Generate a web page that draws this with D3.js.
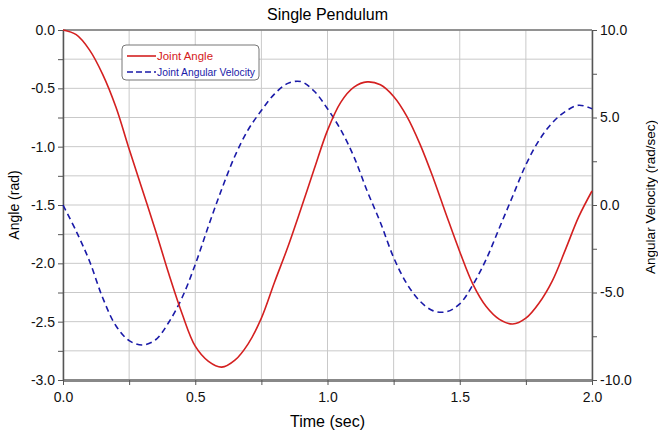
<!DOCTYPE html>
<html>
<head>
  <meta charset="utf-8">
  <script src="https://d3js.org/d3.v7.min.js"></script>
  <style>
    body { margin: 0; background: #fff; }
    text { font-family: "Liberation Sans", Arial, sans-serif; }
  </style>
</head>
<body>
  <div id="chart"></div>
  <script>
    // sample times (sec)
    var times = [0.00, 0.05, 0.10, 0.15, 0.20, 0.25, 0.30, 0.35, 0.40, 0.45,
                 0.50, 0.55, 0.60, 0.65, 0.70, 0.75, 0.80, 0.85, 0.90, 0.95,
                 1.00, 1.05, 1.10, 1.15, 1.20, 1.25, 1.30, 1.35, 1.40, 1.45,
                 1.50, 1.55, 1.60, 1.65, 1.70, 1.75, 1.80, 1.85, 1.90, 1.95, 2.00];
    // joint angle (rad)
    var jointAngle = [0.00, -0.04, -0.17, -0.38, -0.66, -1.02, -1.37, -1.72, -2.09, -2.43,
                      -2.71, -2.84, -2.89, -2.83, -2.69, -2.47, -2.16, -1.86, -1.53, -1.19,
                      -0.86, -0.62, -0.49, -0.445, -0.47, -0.57, -0.74, -0.98, -1.27, -1.59,
                      -1.90, -2.18, -2.37, -2.48, -2.52, -2.47, -2.34, -2.15, -1.88, -1.60, -1.38];
    // joint angular velocity (rad/sec)
    var jointVelocity = [0.0, -1.5, -3.2, -5.3, -6.9, -7.75, -8.0, -7.7, -6.7, -5.3,
                         -3.4, -1.2, 0.9, 2.8, 4.3, 5.4, 6.35, 6.95, 7.05, 6.5,
                         5.5, 4.3, 2.75, 0.8, -1.0, -3.0, -4.5, -5.5, -6.05, -6.1,
                         -5.65, -4.55, -3.1, -1.3, 0.5, 2.3, 3.7, 4.7, 5.35, 5.7, 5.5];
    var xTicks = [0, 0.5, 1.0, 1.5, 2.0];
    var leftTicks = [0, -0.5, -1.0, -1.5, -2.0, -2.5, -3.0];
    var rightTicks = [10, 5, 0, -5, -10];

    var W = 658, H = 434;
    var margin = { top: 30, right: 66, bottom: 54, left: 63 };
    var width = W - margin.left - margin.right;
    var height = H - margin.top - margin.bottom;

    var svg = d3.select('#chart').append('svg')
      .attr('width', W)
      .attr('height', H);

    var g = svg.append('g')
      .attr('transform', 'translate(' + margin.left + ',' + margin.top + ')');

    var x = d3.scaleLinear().domain([0, 2]).range([0, width]);
    var yL = d3.scaleLinear().domain([-3, 0]).range([height, 0]);
    var yR = d3.scaleLinear().domain([-10, 10]).range([height, 0]);

    // grid
    var gridX = d3.range(0, 2.001, 0.25);
    var gridY = d3.range(-3, 0.001, 0.25);
    g.selectAll('.gx').data(gridX).enter().append('line')
      .attr('x1', function(d) { return x(d); })
      .attr('x2', function(d) { return x(d); })
      .attr('y1', 0).attr('y2', height)
      .attr('stroke', '#c9c9c9').attr('stroke-width', 1);
    g.selectAll('.gy').data(gridY).enter().append('line')
      .attr('x1', 0).attr('x2', width)
      .attr('y1', function(d) { return yL(d); })
      .attr('y2', function(d) { return yL(d); })
      .attr('stroke', '#c9c9c9').attr('stroke-width', 1);

    // top border
    g.append('line').attr('x1', 0).attr('x2', width).attr('y1', 0).attr('y2', 0)
      .attr('stroke', '#777').attr('stroke-width', 1.5);

    // axes
    var fmt = function(d) { return d3.format('.1f')(d).replace('\u2212', '-'); };
    function styleAxis(sel) {
      sel.select('.domain').attr('stroke', '#555').attr('stroke-width', 1.5);
      sel.selectAll('.tick line').attr('stroke', '#555');
      sel.selectAll('.tick text').attr('fill', '#111')
        .style('font-family', '"Liberation Sans", Arial, sans-serif')
        .style('font-size', '14px');
    }

    // minor ticks first
    g.append('g').attr('transform', 'translate(0,' + height + ')')
      .call(d3.axisBottom(x).tickValues(gridX).tickSize(5).tickFormat('').tickSizeOuter(0))
      .call(styleAxis)
      .select('.domain').attr('stroke', '#888').attr('stroke-width', 3);
    g.append('g')
      .call(d3.axisLeft(yL).tickValues(gridY).tickSize(5).tickFormat('').tickSizeOuter(0))
      .call(styleAxis);
    g.append('g').attr('transform', 'translate(' + width + ',0)')
      .call(d3.axisRight(yR).tickValues(d3.range(-10, 10.001, 2.5)).tickSize(5).tickFormat('').tickSizeOuter(0))
      .call(styleAxis);

    // labelled ticks
    var xa = g.append('g').attr('transform', 'translate(0,' + height + ')')
      .call(d3.axisBottom(x).tickValues(xTicks).tickFormat(fmt).tickSize(0).tickPadding(12))
      .call(styleAxis);
    xa.select('.domain').remove();
    var la = g.append('g')
      .call(d3.axisLeft(yL).tickValues(leftTicks).tickFormat(fmt).tickSize(0).tickPadding(8))
      .call(styleAxis);
    la.select('.domain').remove();
    var ra = g.append('g').attr('transform', 'translate(' + width + ',0)')
      .call(d3.axisRight(yR).tickValues(rightTicks).tickFormat(fmt).tickSize(0).tickPadding(8))
      .call(styleAxis);
    ra.select('.domain').remove();

    // lines
    var data = times.map(function(t, i) {
      return { t: t, a: jointAngle[i], v: jointVelocity[i] };
    });
    var angleLine = d3.line()
      .x(function(d) { return x(d.t); })
      .y(function(d) { return yL(d.a); })
      .curve(d3.curveCatmullRom);
    var velLine = d3.line()
      .x(function(d) { return x(d.t); })
      .y(function(d) { return yR(d.v); })
      .curve(d3.curveCatmullRom);

    g.append('path').datum(data)
      .attr('d', velLine)
      .attr('fill', 'none')
      .attr('stroke', '#1a1aa8')
      .attr('stroke-width', 1.6)
      .attr('stroke-dasharray', '6,4');
    g.append('path').datum(data)
      .attr('d', angleLine)
      .attr('fill', 'none')
      .attr('stroke', '#d42020')
      .attr('stroke-width', 1.6);

    // legend
    var lg = svg.append('g').attr('transform', 'translate(122,45)');
    lg.append('rect')
      .attr('width', 137).attr('height', 35)
      .attr('rx', 4).attr('ry', 4)
      .attr('fill', '#fff').attr('stroke', '#777').attr('stroke-width', 1);
    var legendItems = [
      { name: 'Joint Angle', color: '#d42020', dash: null },
      { name: 'Joint Angular Velocity', color: '#1a1aa8', dash: '6,3' }
    ];
    var items = lg.selectAll('.li').data(legendItems).enter().append('g')
      .attr('transform', function(d, i) { return 'translate(0,' + (11 + i * 16) + ')'; });
    items.append('line')
      .attr('x1', 5).attr('x2', 34).attr('y1', 0).attr('y2', 0)
      .attr('stroke', function(d) { return d.color; })
      .attr('stroke-width', 1.6)
      .attr('stroke-dasharray', function(d) { return d.dash; });
    items.append('text')
      .attr('x', 35).attr('y', 4)
      .attr('fill', function(d) { return d.color; })
      .style('font-size', '11px')
      .attr('textLength', function(d, i) { return i === 0 ? 56 : 98; })
      .attr('lengthAdjust', 'spacingAndGlyphs')
      .text(function(d) { return d.name; });

    // titles
    svg.append('text')
      .attr('x', margin.left + width / 2).attr('y', 20)
      .attr('text-anchor', 'middle')
      .style('font-size', '16px')
      .text('Single Pendulum');
    svg.append('text')
      .attr('x', margin.left + width / 2).attr('y', 427)
      .attr('text-anchor', 'middle')
      .style('font-size', '16px')
      .text('Time (sec)');
    svg.append('text')
      .attr('transform', 'translate(19,205) rotate(-90)')
      .attr('text-anchor', 'middle')
      .style('font-size', '14px')
      .text('Angle (rad)');
    svg.append('text')
      .attr('transform', 'translate(655,197) rotate(-90)')
      .attr('text-anchor', 'middle')
      .style('font-size', '13.5px')
      .text('Angular Velocity (rad/sec)');
  </script>
</body>
</html>
